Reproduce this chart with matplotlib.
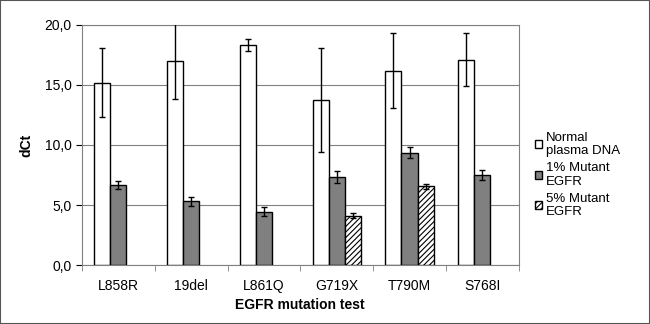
import numpy as np
import matplotlib.pyplot as plt
from matplotlib.ticker import FuncFormatter, FixedLocator

plt.rcParams["font.family"] = ["Liberation Sans", "DejaVu Sans"]
plt.rcParams["hatch.color"] = "#555555"
plt.rcParams["hatch.linewidth"] = 0.8

categories = ["L858R", "19del", "L861Q", "G719X", "T790M", "S768I"]
normal = [15.2, 17.0, 18.35, 13.75, 16.2, 17.1]
normal_err = [2.9, 3.15, 0.5, 4.35, 3.1, 2.2]
mut1 = [6.65, 5.3, 4.45, 7.3, 9.35, 7.5]
mut1_err = [0.35, 0.35, 0.35, 0.5, 0.45, 0.4]
mut5 = [np.nan, np.nan, np.nan, 4.1, 6.55, np.nan]
mut5_err = [np.nan, np.nan, np.nan, 0.2, 0.2, np.nan]

x = np.arange(len(categories))
w = 0.22

fig = plt.figure(figsize=(6.5, 3.24), dpi=100)
ax = fig.add_axes([0.126, 0.182, 0.672, 0.741])

err_kw = dict(ecolor="black", elinewidth=1, capsize=2.5, capthick=1)
containers = []
containers.append(ax.bar(x - w, normal, w, yerr=normal_err, color="white", edgecolor="black",
                         linewidth=1, label="Normal\nplasma DNA", error_kw=err_kw, zorder=3))
containers.append(ax.bar(x, mut1, w, yerr=mut1_err, color="#808080", edgecolor="black",
                         linewidth=1, label="1% Mutant\nEGFR", error_kw=err_kw, zorder=3))
containers.append(ax.bar(x + w, mut5, w, yerr=mut5_err, color="white", edgecolor="black",
                         hatch="//////", linewidth=1, label="5% Mutant\nEGFR", error_kw=err_kw, zorder=3))
# keep the error bars inside the plot area (19del is cut at 20)
for c in containers:
    for art in c.errorbar.lines:
        parts = art if isinstance(art, tuple) else (art,)
        for a in parts:
            if a is not None:
                a.set_clip_on(True)
                a.set_clip_path(ax.patch)

ax.set_xlim(-0.5, len(categories) - 0.5)
ax.set_ylim(0, 20)
ax.set_yticks([0, 5, 10, 15, 20])
ax.yaxis.set_major_formatter(FuncFormatter(lambda v, p: f"{v:.1f}".replace(".", ",")))
ax.set_xticks(x)
ax.set_xticklabels(categories)
ax.xaxis.set_minor_locator(FixedLocator(np.arange(-0.5, len(categories), 1.0)))
ax.tick_params(axis="x", which="major", length=0, pad=10, labelsize=10)
ax.tick_params(axis="x", which="minor", length=4, color="#808080")
ax.tick_params(axis="y", length=4, labelsize=10)

ax.grid(axis="y", color="#808080", linewidth=0.8, zorder=0)
ax.set_axisbelow(True)
for side in ["top", "right"]:
    ax.spines[side].set_color("#808080")
    ax.spines[side].set_linewidth(0.8)
ax.spines["left"].set_color("#808080")
ax.spines["bottom"].set_color("#808080")

ax.set_ylabel("dCt", fontsize=10, fontweight="bold", labelpad=8)
ax.set_xlabel("EGFR mutation test", fontsize=10, fontweight="bold", labelpad=4)

ax.legend(loc="center left", bbox_to_anchor=(1.01, 0.375), frameon=False,
          fontsize=9.5, handlelength=0.55, handleheight=0.55, handletextpad=0.3,
          labelspacing=0.35)

border = plt.Rectangle((0, 0), 1, 1, transform=fig.transFigure, fill=False,
                       edgecolor="#555555", linewidth=1.5)
fig.patches.append(border)

fig.savefig("out.png", dpi=100)
